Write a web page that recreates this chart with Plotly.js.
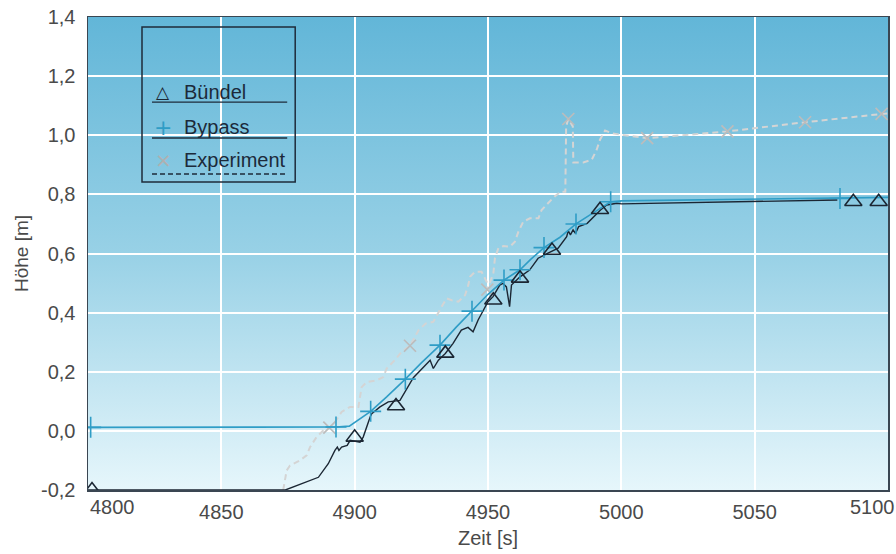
<!DOCTYPE html>
<html>
<head>
<meta charset="utf-8">
<script src="https://cdn.plot.ly/plotly-3.0.1.min.js"></script>
<style>html,body{margin:0;padding:0;background:#fff;}#chart{width:896px;height:554px;}</style>
</head>
<body>
<div id="chart"></div>
<script>
// ---- data ----
const xTickVals = [4850, 4900, 4950, 5000, 5050];
const xTickText = ['4850', '4900', '4950', '5000', '5050'];
const xEndLabels = ['4800', '5100'];
const yTickVals = [-0.2, 0.0, 0.2, 0.4, 0.6, 0.8, 1.0, 1.2, 1.4];
const yTickText = ['-0,2', '0,0', '0,2', '0,4', '0,6', '0,8', '1,0', '1,2', '1,4'];

const seriesNames = ['Bündel', 'Bypass', 'Experiment'];

const bundelX = [4800, 4874, 4886.4, 4890.1, 4892.6, 4893.5, 4894.1, 4895.1, 4897.2, 4898.3, 4902, 4903.2, 4905.8, 4906.4, 4909.5, 4912.6, 4917, 4919.5, 4922, 4928.3, 4929.5, 4931.4, 4934, 4936.9, 4940, 4942.5, 4944.4, 4946.3, 4950, 4951.9, 4954.4, 4955.6, 4956.9, 4958.1, 4958.8, 4960, 4962, 4965.6, 4968.8, 4972.5, 4976.3, 4979.5, 4980.1, 4980.9, 4981.9, 4982.8, 4984, 4987.2, 4989.7, 4992.2, 4994.5, 4998.3, 5000, 5081];
const bundelY = [-0.2, -0.2, -0.157, -0.111, -0.066, -0.055, -0.066, -0.055, -0.049, -0.032, -0.038, -0.021, 0.047, 0.058, 0.081, 0.098, 0.103, 0.143, 0.18, 0.239, 0.211, 0.239, 0.262, 0.296, 0.341, 0.35, 0.335, 0.375, 0.437, 0.454, 0.493, 0.499, 0.487, 0.42, 0.493, 0.504, 0.521, 0.544, 0.584, 0.601, 0.618, 0.657, 0.677, 0.663, 0.68, 0.668, 0.691, 0.702, 0.725, 0.747, 0.764, 0.77, 0.768, 0.781];
const bundelMarkX = [4801.5, 4900, 4915.5, 4934, 4952, 4962, 4974, 4992, 5087, 5096.5];
const bundelMarkY = [-0.2, -0.022, 0.084, 0.262, 0.442, 0.516, 0.61, 0.748, 0.775, 0.775];

const bypassX = [4800, 4893, 4898, 4906, 4912, 4919, 4925, 4932, 4938, 4944, 4950, 4956, 4962, 4966, 4971, 4977, 4983, 4989, 4996, 5000, 5082, 5100];
const bypassY = [0.012, 0.013, 0.016, 0.066, 0.115, 0.175, 0.23, 0.29, 0.35, 0.405, 0.462, 0.51, 0.545, 0.58, 0.62, 0.655, 0.70, 0.735, 0.775, 0.778, 0.786, 0.79];
const bypassMarkX = [4801, 4893, 4906, 4919, 4932, 4944, 4956, 4962, 4971, 4983, 4996, 5082];
const bypassMarkY = [0.012, 0.013, 0.066, 0.175, 0.29, 0.405, 0.51, 0.545, 0.62, 0.70, 0.775, 0.786];

const expX = [4873.2, 4874.5, 4875.75, 4879.5, 4882, 4883.25, 4885.7, 4888.9, 4890.5, 4892.6, 4895.1, 4898.25, 4901.4, 4902, 4902.6, 4904.5, 4908.25, 4910.7, 4912, 4915, 4917.6, 4920.75, 4924, 4926.6, 4929.5, 4932.6, 4934.5, 4936.4, 4938.9, 4941.4, 4942.6, 4943.25, 4945.1, 4947.6, 4949.5, 4949.75, 4952, 4952.6, 4953.9, 4955.7, 4958.25, 4960.1, 4961.4, 4963.25, 4965.75, 4968.9, 4970.1, 4972.5, 4974.9, 4977.2, 4979, 4979.3, 4980.1, 4981.8, 4982, 4985.75, 4988.9, 4990.75, 4992, 4993.9, 4996.4, 4999.7, 5009.7, 5039.8, 5068.9, 5097.6, 5100];
const expY = [-0.2, -0.134, -0.117, -0.1, -0.083, -0.055, -0.021, 0.007, 0.011, 0.03, 0.064, 0.081, 0.081, 0.115, 0.148, 0.165, 0.171, 0.182, 0.211, 0.239, 0.267, 0.288, 0.341, 0.363, 0.369, 0.42, 0.448, 0.442, 0.437, 0.459, 0.493, 0.521, 0.538, 0.538, 0.504, 0.478, 0.533, 0.584, 0.618, 0.625, 0.623, 0.64, 0.674, 0.708, 0.719, 0.719, 0.747, 0.77, 0.792, 0.809, 0.809, 1.03, 1.055, 1.03, 0.908, 0.908, 0.917, 0.951, 0.985, 1.016, 1.007, 1.002, 0.99, 1.013, 1.044, 1.072, 1.074];
const expMarkX = [4890.5, 4920.75, 4949.75, 4980.1, 5009.7, 5039.8, 5068.9, 5097.6];
const expMarkY = [0.011, 0.288, 0.478, 1.055, 0.99, 1.013, 1.044, 1.072];

// ---- styles ----
const cBundel = '#1b2633';
const cBypass = '#2f9dc6';
const cExp = '#d4d4d4';
const cExpMark = '#bcbcbc';
const cFrame = '#3a4652';
const FONT = 'Liberation Sans, Arial, Helvetica, sans-serif';

const traces = [
  {x: expX, y: expY, mode: 'lines', line: {color: cExp, width: 2, dash: '6px,4px'}, showlegend: false},
  {x: expMarkX, y: expMarkY, mode: 'markers', marker: {symbol: 'x-thin-open', size: 12, color: cExpMark, line: {color: cExpMark, width: 1.7}}, showlegend: false},
  {x: bundelX, y: bundelY, mode: 'lines', line: {color: cBundel, width: 1.4}, showlegend: false},
  {x: bypassX, y: bypassY, mode: 'lines', line: {color: cBypass, width: 1.6}, showlegend: false},
  {x: bypassMarkX, y: bypassMarkY, mode: 'markers', marker: {symbol: 'cross-thin-open', size: 15, color: cBypass, line: {color: cBypass, width: 1.6}}, showlegend: false},
  {x: bundelMarkX, y: bundelMarkY, mode: 'markers', marker: {symbol: 'triangle-up-open', size: 15, color: cBundel, line: {color: cBundel, width: 1.6}}, showlegend: false}
];

const svg = "<svg xmlns='http://www.w3.org/2000/svg' width='800' height='473' preserveAspectRatio='none'><defs><linearGradient id='g' x1='0' y1='0' x2='0' y2='1'><stop offset='0' stop-color='#62b6d8'/><stop offset='0.5' stop-color='#98d1e6'/><stop offset='1' stop-color='#e6f6fb'/></linearGradient></defs><rect width='800' height='473' fill='url(#g)'/></svg>";
const bgSrc = 'data:image/svg+xml;base64,' + btoa(svg);

// legend geometry (paper coords)
const lgX0 = 0.0675, lgX1 = 0.259, lgY0 = 0.651, lgY1 = 0.979;
const entryY = [0.8414, 0.7674, 0.6977];
const ruleY = [0.820, 0.7442, 0.6681];
const symGlyph = ['△', '+', '×'];
const symColor = [cBundel, cBypass, '#b0b0b0'];
const symSize = [17, 22, 20];

const shapes = [
  {type: 'rect', xref: 'paper', yref: 'paper', x0: lgX0, x1: lgX1, y0: lgY0, y1: lgY1, line: {color: '#1e2b3a', width: 1.5}, fillcolor: 'rgba(0,0,0,0)'}
];
const ruleDash = ['solid', 'solid', '5px,3px'];
ruleY.forEach((y, i) => shapes.push({type: 'line', xref: 'paper', yref: 'paper', x0: 0.08, x1: 0.249, y0: y, y1: y, line: {color: '#1e2b3a', width: 1.3, dash: ruleDash[i]}}));

const annotations = [];
seriesNames.forEach((name, i) => {
  annotations.push({xref: 'paper', yref: 'paper', x: 0.094, y: entryY[i], text: symGlyph[i], showarrow: false, xanchor: 'center', yanchor: 'middle', font: {family: 'DejaVu Sans, sans-serif', size: symSize[i], color: symColor[i]}});
  annotations.push({xref: 'paper', yref: 'paper', x: 0.1175, y: entryY[i], text: name, showarrow: false, xanchor: 'left', yanchor: 'middle', font: {family: FONT, size: 20, color: '#1c2a3a'}});
});
annotations.push({xref: 'x', yref: 'paper', x: 4800, y: -0.008, text: xEndLabels[0], showarrow: false, xanchor: 'left', yanchor: 'top', font: {family: FONT, size: 20, color: '#4a4a4a'}});
annotations.push({xref: 'paper', yref: 'paper', x: 1.011, y: -0.008, text: xEndLabels[1], showarrow: false, xanchor: 'right', yanchor: 'top', font: {family: FONT, size: 20, color: '#4a4a4a'}});

const layout = {
  width: 896, height: 554,
  margin: {l: 88, r: 8, t: 17, b: 64, pad: 0},
  paper_bgcolor: '#ffffff',
  plot_bgcolor: 'rgba(0,0,0,0)',
  font: {family: FONT, size: 20, color: '#4a4a4a'},
  showlegend: false,
  images: [{source: bgSrc, xref: 'paper', yref: 'paper', x: 0, y: 1, sizex: 1, sizey: 1, sizing: 'stretch', xanchor: 'left', yanchor: 'top', layer: 'below'}],
  xaxis: {
    range: [4800, 5100], tickmode: 'array', tickvals: xTickVals, ticktext: xTickText,
    showgrid: true, gridcolor: '#ffffff', gridwidth: 2, zeroline: false,
    showline: true, mirror: true, linecolor: cFrame, linewidth: 1.5,
    ticks: '', ticklabelstandoff: 3,
    tickfont: {family: FONT, size: 20, color: '#4a4a4a'},
    title: {text: 'Zeit [s]', font: {family: FONT, size: 20, color: '#4a4a4a'}, standoff: 9},
    automargin: false, fixedrange: true
  },
  yaxis: {
    range: [-0.2, 1.4], tickmode: 'array', tickvals: yTickVals, ticktext: yTickText,
    showgrid: true, gridcolor: '#ffffff', gridwidth: 2, zeroline: false,
    showline: true, mirror: true, linecolor: cFrame, linewidth: 1.5,
    ticks: '', ticklabelstandoff: 7,
    tickfont: {family: FONT, size: 20, color: '#4a4a4a'},
    title: {text: 'Höhe [m]', font: {family: FONT, size: 19, color: '#4a4a4a'}, standoff: 7},
    automargin: false, fixedrange: true
  },
  shapes: shapes,
  annotations: annotations
};

Plotly.newPlot('chart', traces, layout, {staticPlot: true, displayModeBar: false});
</script>
</body>
</html>
